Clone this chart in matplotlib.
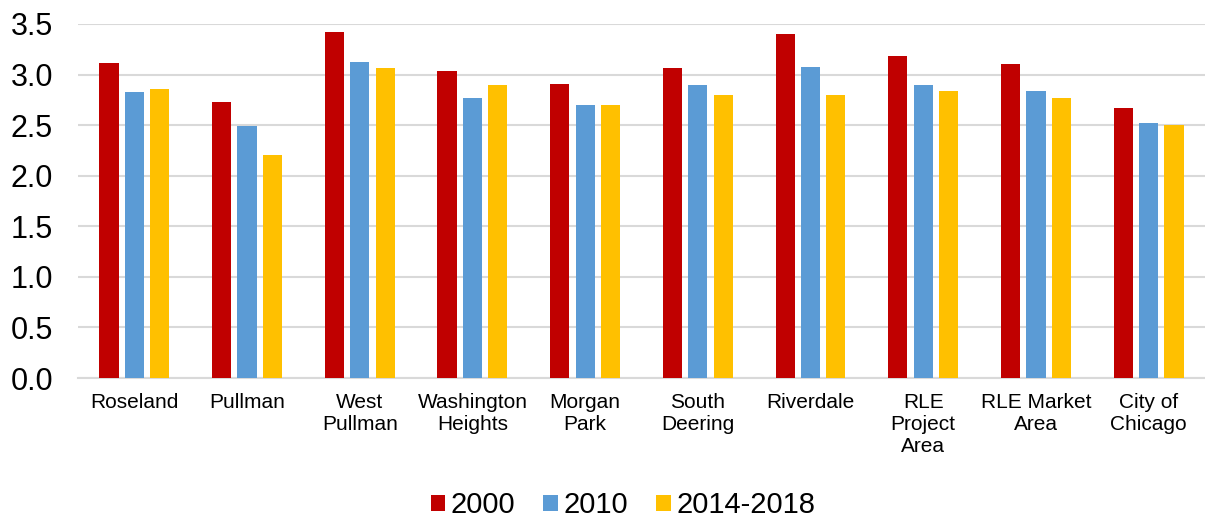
import numpy as np
import matplotlib
matplotlib.use("Agg")
import matplotlib.pyplot as plt
from matplotlib.patches import Patch

plt.rcParams['font.family'] = ['Liberation Sans', 'DejaVu Sans']

categories = ["Roseland", "Pullman", "West\nPullman", "Washington\nHeights", "Morgan\nPark",
              "South\nDeering", "Riverdale", "RLE\nProject\nArea", "RLE Market\nArea",
              "City of\nChicago"]
series_names = ["2000", "2010", "2014-2018"]
vals_2000 = [3.11, 2.73, 3.42, 3.03, 2.91, 3.06, 3.40, 3.18, 3.10, 2.67]
vals_2010 = [2.83, 2.49, 3.12, 2.77, 2.70, 2.90, 3.07, 2.90, 2.84, 2.52]
vals_2014 = [2.86, 2.20, 3.06, 2.90, 2.70, 2.80, 2.80, 2.84, 2.77, 2.50]
colors = ["#C00000", "#5B9BD5", "#FFC000"]
yticks = [0.0, 0.5, 1.0, 1.5, 2.0, 2.5, 3.0, 3.5]

fig = plt.figure(figsize=(12.05, 5.2), dpi=100)
ax = fig.add_axes([0.0647, 0.273, 0.9353, 0.681])

x = np.arange(len(categories))
width = 0.17
offsets = [-0.225, 0.0, 0.225]
for vals, off, col in zip([vals_2000, vals_2010, vals_2014], offsets, colors):
    ax.bar(x + off, vals, width, color=col, zorder=3)

ax.set_xlim(-0.5, len(categories) - 0.5)
ax.set_ylim(0, 3.5)
ax.set_yticks(yticks)
ax.set_yticklabels([f"{v:.1f}" for v in yticks], fontsize=22)
ax.set_xticks(x)
ax.set_xticklabels(categories, fontsize=15, linespacing=1.2, va="top")
ax.tick_params(axis="both", length=0)
ax.tick_params(axis="y", pad=18)
ax.tick_params(axis="x", pad=11)
ax.grid(axis="y", color="#D9D9D9", linewidth=1.5, zorder=0)
for s in ["left", "right", "top"]:
    ax.spines[s].set_visible(False)
ax.spines["bottom"].set_color("#D9D9D9")
ax.spines["bottom"].set_linewidth(1.5)

handles = [Patch(facecolor=c, edgecolor="none") for c in colors]
fig.legend(handles, series_names, loc="center", bbox_to_anchor=(0.517, 0.028),
           ncol=3, frameon=False, fontsize=21, handlelength=0.5, handleheight=0.5,
           handletextpad=0.2, columnspacing=0.95, borderpad=0)

fig.savefig("out.png", dpi=100, facecolor="white")
